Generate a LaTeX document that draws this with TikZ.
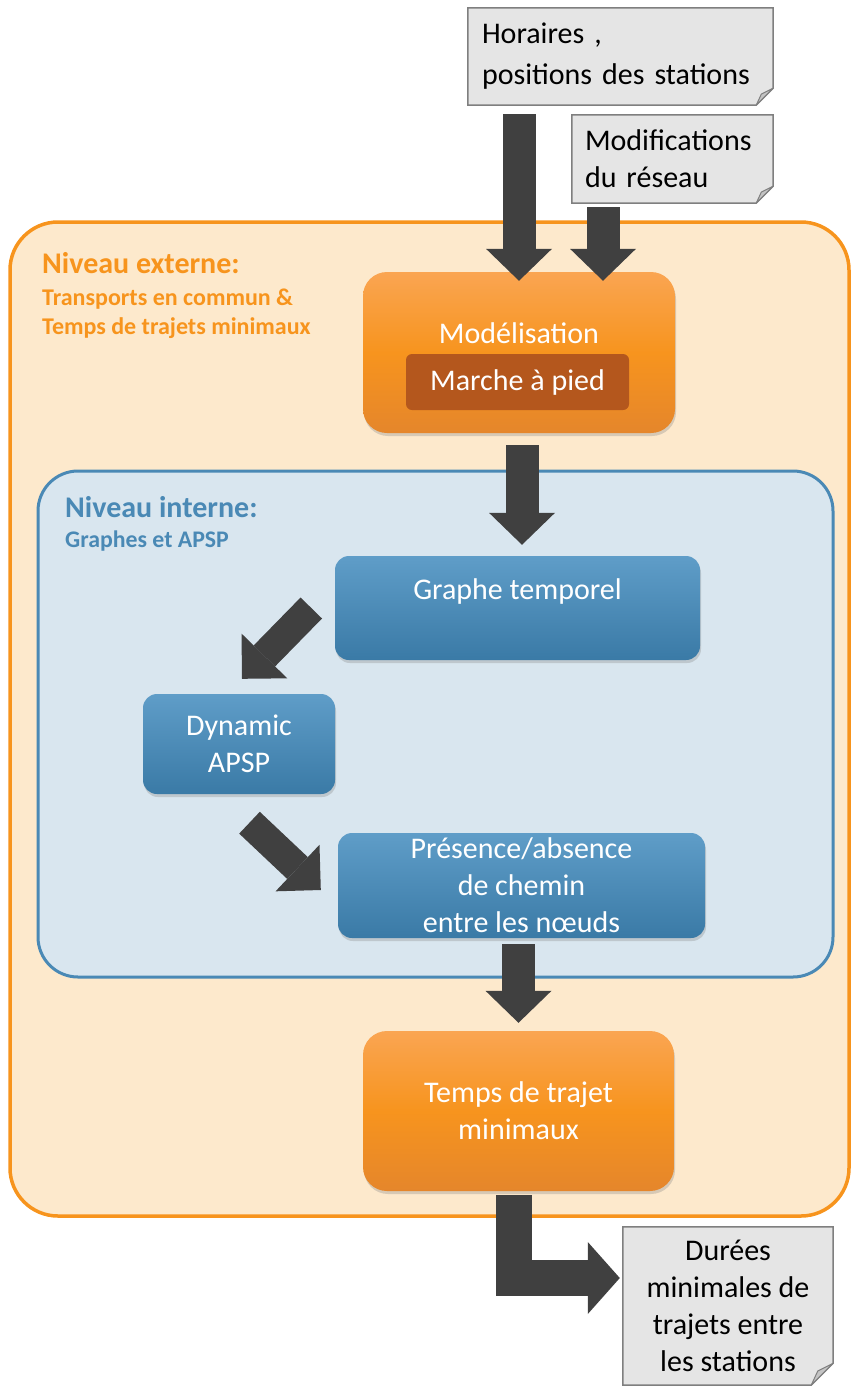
\documentclass[tikz,border=0pt]{standalone}
\usepackage{fontspec}
\setmainfont{Carlito}
\usetikzlibrary{arrows.meta,shadows,calc}
\definecolor{orTop}{HTML}{FAA552}
\definecolor{orMid}{HTML}{F7941E}
\definecolor{orBot}{HTML}{E5862B}
\definecolor{blTop}{HTML}{5F9DC8}
\definecolor{blBot}{HTML}{3A7AA6}
\definecolor{outerFill}{HTML}{FDE9CC}
\definecolor{outerLine}{HTML}{F7941D}
\definecolor{orLab}{HTML}{F7941D}
\definecolor{innerFill}{HTML}{D9E6EF}
\definecolor{innerLine}{HTML}{4A89B5}
\definecolor{walk}{HTML}{B4571D}
\definecolor{arrowc}{HTML}{404040}
\definecolor{docFill}{HTML}{E5E5E5}
\definecolor{docLine}{HTML}{7F7F7F}
\definecolor{foldFill}{HTML}{C4C4C4}

\newcommand\docfold[2]{%
  \fill[white] ([yshift=#2pt]#1.south east) -- ([xshift=3pt,yshift=#2pt]#1.south east)
     -- ([xshift=3pt,yshift=-3pt]#1.south east) -- ([xshift=-#2pt,yshift=-3pt]#1.south east)
     -- ([xshift=-#2pt]#1.south east) -- cycle;
  \draw[docline] (#1.north west) -- (#1.north east) -- ([yshift=#2pt]#1.south east)
     -- ([xshift=-#2pt]#1.south east) -- (#1.south west) -- cycle;
  \filldraw[foldst] ([yshift=#2pt]#1.south east) -- ([xshift=-#2pt]#1.south east)
     -- ([xshift={-0.7*#2pt},yshift={0.65*#2pt}]#1.south east) -- cycle;}

\begin{document}
\begin{tikzpicture}[x=1pt,y=-1pt,
  obox/.style={rounded corners=24pt, top color=orTop, bottom color=orBot, middle color=orMid,
     drop shadow={shadow xshift=1pt, shadow yshift=-3pt, opacity=0.3},
     text=white, font=\fontsize{30}{37}\selectfont, align=center, inner sep=0pt},
  bbox/.style={rounded corners=14pt, top color=blTop, bottom color=blBot,
     drop shadow={shadow xshift=1pt, shadow yshift=-3pt, opacity=0.3},
     text=white, font=\fontsize{30}{37}\selectfont, align=center, inner sep=0pt},
  btext/.style={text=white, font=\fontsize{30}{37}\selectfont, inner sep=0pt},
  doc/.style={fill=docFill, text=black, font=\fontsize{30}{37}\selectfont, inner ysep=0pt},
  docline/.style={draw=docLine, line width=1.5pt, line join=miter},
  foldst/.style={fill=foldFill, draw=docLine, line width=1pt, line join=round},
  blk/.style={draw=arrowc, line width=33pt, -{Triangle[width=66pt,length=32pt,line width=0pt]}},
  blkd/.style={draw=arrowc, line width=30pt, -{Triangle[width=64pt,length=32pt,line width=0pt]}},
  blkb/.style={draw=arrowc, line width=36pt, line join=miter, -{Triangle[width=72pt,length=32pt,line width=0pt]}},
  lab/.style={inner sep=0pt}
]
\useasboundingbox (0,0) rectangle (851,1387);

% containers
\node[draw=outerLine, line width=3.5pt, fill=outerFill, rounded corners=48pt,
      minimum width=839pt, minimum height=994pt, inner sep=0pt] (outer) at (429.5,719) {};
\node[draw=innerLine, line width=3pt, fill=innerFill, rounded corners=40pt,
      minimum width=795pt, minimum height=506pt, inner sep=0pt] (inner) at (435.5,724) {};

% labels
\node[lab, anchor=base west, text=orLab, font=\bfseries\fontsize{30}{36}\selectfont] (ext) at (42,273) {Niveau externe:};
\node[lab, anchor=north west, text=orLab, font=\bfseries\fontsize{24}{29}\selectfont, align=left] (extsub) at (42,289)
   {Transports en commun \&\\Temps de trajets minimaux};
\node[lab, anchor=base west, text=innerLine, font=\bfseries\fontsize{30}{36}\selectfont] (int) at (65,517) {Niveau interne:};
\node[lab, anchor=base west, text=innerLine, font=\bfseries\fontsize{23.8}{30}\selectfont] (intsub) at (65,547) {Graphes et APSP};

% process boxes
\node[obox, minimum width=312pt, minimum height=161pt] (mod) at (519,352.5) {};
\node[btext] (modt) at (519,333) {Modélisation};
\node[btext, fill=walk, rounded corners=6pt, minimum width=223pt, minimum height=56pt] (walk) at (517.5,382) {Marche à pied};

\node[bbox, minimum width=365pt, minimum height=104pt] (g) at (517.5,608) {};
\node[btext] (gt) at (517.5,591) {Graphe temporel};
\node[bbox, minimum width=192pt, minimum height=100pt] (dyn) at (239,744) {Dynamic\\APSP};
\node[bbox, minimum width=367pt, minimum height=105pt] (p) at (521.5,885.5) {Présence/absence\\de chemin\\entre les nœuds};
\node[obox, minimum width=311pt, minimum height=160pt] (tm) at (518.5,1111) {Temps de trajet\\minimaux};

% documents
\node[doc, align=left, text width=277pt, inner xsep=14pt, minimum height=97pt] (h) at (620.5,56.5)
   {Horaires ,\\[4pt]positions des stations};
\docfold{h}{17}
\node[doc, align=left, text width=175pt, inner xsep=13pt, minimum height=88pt] (m) at (672.5,159)
   {Modifications\\du réseau};
\docfold{m}{17}
\node[doc, align=center, inner xsep=0pt, minimum width=210pt, minimum height=158pt] (dur) at (728,1306)
   {Durées\\minimales de\\trajets entre\\les stations};
\docfold{dur}{22}

% arrows
\draw[blk] ([yshift=-9pt]h.south -| mod.north) -- ([yshift=-9pt]mod.north);
\draw[blk] ($(m.south -| mod.north)+(84,4)$) -- ($(mod.north)+(84,9)$);
\draw[blk] ($(mod.south)+(3,12)$) -- ($(mod.south |- g.north)+(3,-11)$);
\draw[blkd] ($(g.west)+(-23.5,0)$) -- ($(dyn.north)+(3,-15)$);
\draw[blkd] ($(dyn.south)+(10.5,28.5)$) -- ($(p.west)+(-17,4.5)$);
\draw[blk] ($(tm.north |- p.south)+(0,6)$) -- ($(tm.north)+(0,-8)$);
\coordinate (bend) at (514,1278);
\draw[blkb] ($(tm.south -| bend)+(0,4)$) -- (bend) -- ($(dur.west |- bend)+(-3,0)$);
\end{tikzpicture}
\end{document}
